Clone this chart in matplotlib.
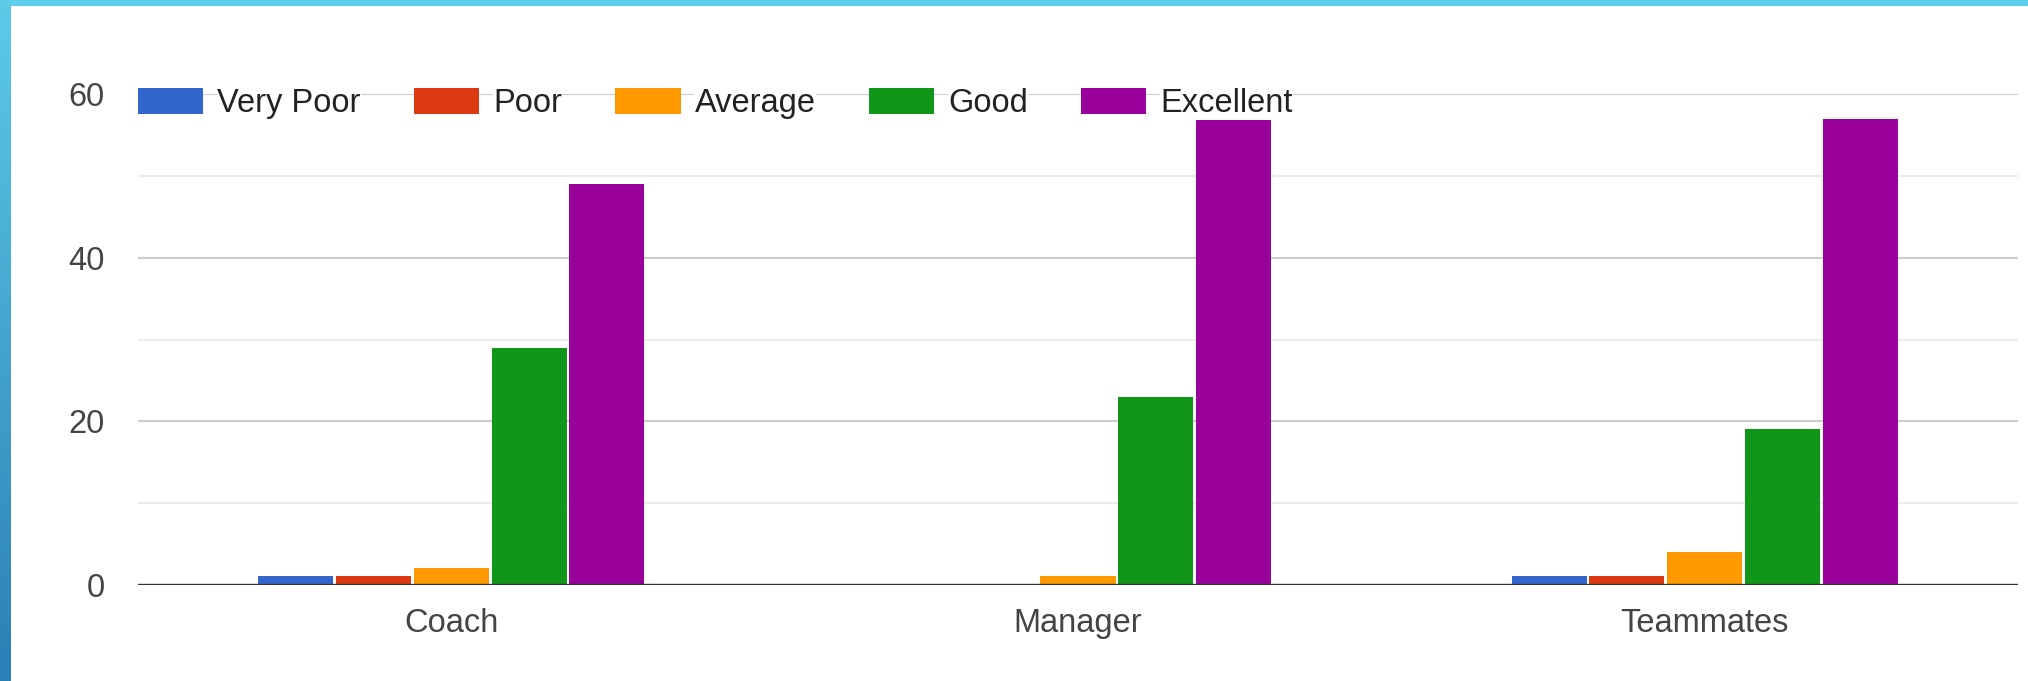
import numpy as np
import matplotlib
matplotlib.use("Agg")
import matplotlib.pyplot as plt
from matplotlib.colors import LinearSegmentedColormap

categories = ["Coach", "Manager", "Teammates"]
series_names = ["Very Poor", "Poor", "Average", "Good", "Excellent"]
very_poor = [1, 0, 1]
poor = [1, 0, 1]
average = [2, 1, 4]
good = [29, 23, 19]
excellent = [49, 57, 57]
colors = ["#3366cc", "#dc3912", "#ff9900", "#109618", "#990099"]
y_ticks = [0, 20, 40, 60]

plt.rcParams['font.family'] = ['Liberation Sans', 'DejaVu Sans']

W, H = 2028, 681
fig = plt.figure(figsize=(W / 100, H / 100), dpi=100)
fig.patch.set_facecolor("white")

# decorative border: top strip and left gradient strip
top_ax = fig.add_axes([0, 1 - 6 / H, 1, 6 / H])
top_ax.axis("off")
top_ax.add_patch(plt.Rectangle((0, 0), 1, 1, color="#5ecfea", transform=top_ax.transAxes))
left_ax = fig.add_axes([0, 0, 11 / W, 1])
left_ax.axis("off")
grad = np.linspace(0, 1, 256).reshape(-1, 1)
cmap = LinearSegmentedColormap.from_list("b", ["#5ccbe8", "#2a7fb4"])
left_ax.imshow(grad, aspect="auto", cmap=cmap, extent=[0, 1, 0, 1], origin="upper")

ax = fig.add_axes([138 / W, 1 - 584.6 / H, (2018 - 138) / W, (584.6 - 94.4) / H])
data = [very_poor, poor, average, good, excellent]
x = np.arange(len(categories))
pitch = 0.1241
bw = 0.12
handles = []
for i, (name, vals, c) in enumerate(zip(series_names, data, colors)):
    b = ax.bar(x + (i - 2) * pitch, vals, width=bw, color=c, label=name, zorder=3)
    handles.append(b)

ax.set_xlim(-0.5, 2.5)
ax.set_ylim(0, 60)
ax.set_yticks(y_ticks)
ax.set_yticks([10, 30, 50], minor=True)
ax.set_xticks(x)
ax.set_xticklabels(categories)
ax.grid(axis="y", which="major", color="#cccccc", linewidth=1.5, zorder=0)
ax.grid(axis="y", which="minor", color="#ebebeb", linewidth=1.5, zorder=0)
ax.grid(axis="x", visible=False)
ax.axhline(0, color="#333333", linewidth=2.4, zorder=4)
for s in ax.spines.values():
    s.set_visible(False)
ax.tick_params(axis="both", which="both", length=0, labelsize=23.5, colors="#444444")
ax.tick_params(axis="y", pad=24)
ax.tick_params(axis="x", pad=17)

leg = fig.legend(handles=handles, labels=series_names, loc="center left",
                 bbox_to_anchor=(138 / W, 1 - 103.5 / H), ncol=5, frameon=False,
                 fontsize=23.5, handlelength=2.0, handleheight=0.86,
                 handletextpad=0.43, columnspacing=1.63, borderpad=0, borderaxespad=0)
for t in leg.get_texts():
    t.set_color("#222222")
    t.set_bbox(dict(facecolor="white", edgecolor="none", pad=0.3))

fig.savefig("out.png", dpi=100)
